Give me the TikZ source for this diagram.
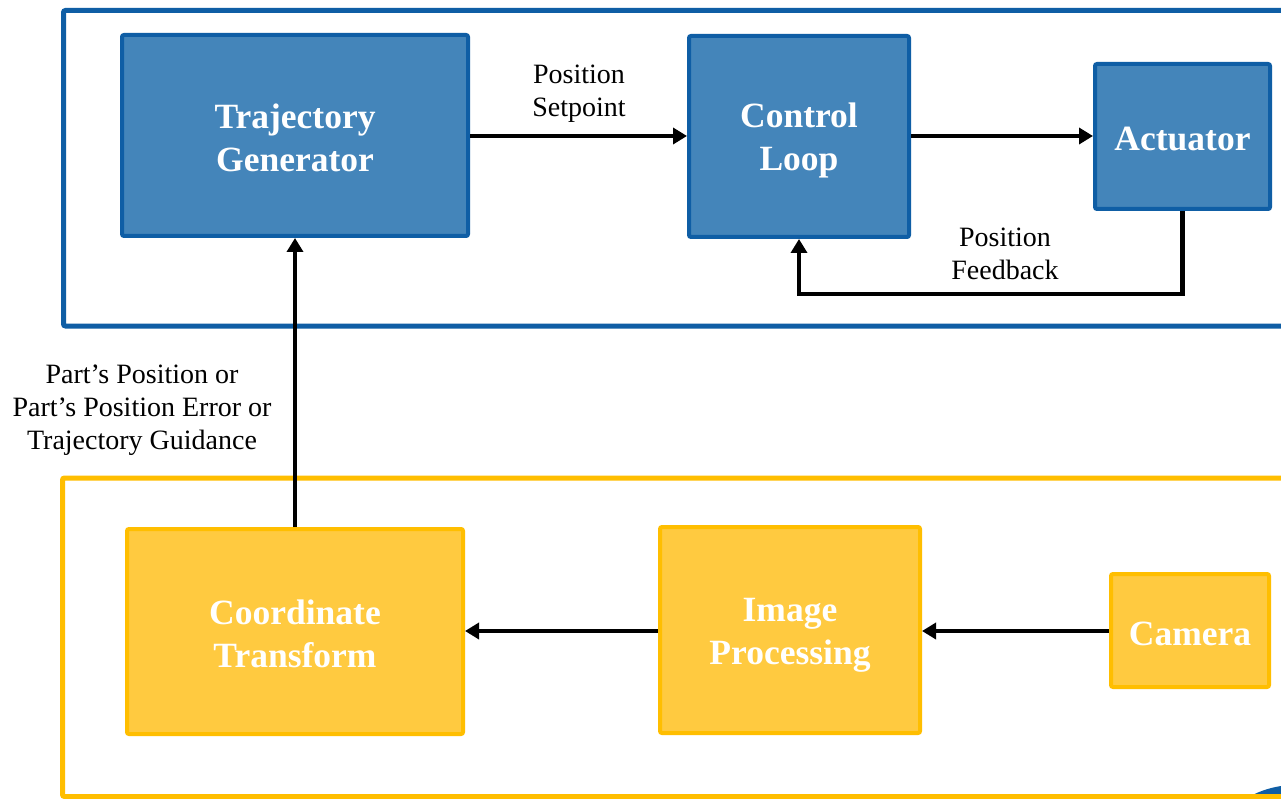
\documentclass[tikz,border=0pt]{standalone}
\usepackage{fontspec}
\setmainfont{Liberation Serif}
\usetikzlibrary{arrows.meta}
\definecolor{bluefill}{RGB}{68,133,186}
\definecolor{blueline}{RGB}{15,94,165}
\definecolor{yelfill}{RGB}{255,202,64}
\definecolor{yelline}{RGB}{255,190,0}
% fixed line box so every block title sits the same way
\newcommand\blkline{\rule[-4.5pt]{0pt}{38pt}}
\tikzset{
  blk/.style={rectangle, rounded corners=2pt, line width=4pt, text=white,
    font=\fontsize{35.5}{43}\selectfont\bfseries, align=center, inner sep=0pt},
  bblk/.style={blk, fill=bluefill, draw=blueline},
  yblk/.style={blk, fill=yelfill, draw=yelline},
  arr/.style={line width=4.5pt, -{Triangle[length=14pt,width=16pt]}},
  lbl/.style={font=\fontsize{28}{33}\selectfont, align=center, inner sep=0pt},
}
\begin{document}
\begin{tikzpicture}[x=1pt,y=-1pt]
\useasboundingbox (0,0) rectangle (1281,799);
\fill[white] (0,0) rectangle (1281,799);
% corner mark
\fill[blueline] (1295,880) circle (95);
% group frames
\draw[blueline, line width=5pt, rounded corners=2pt] (63.5,10.5) rectangle (1300,326);
\draw[yelline, line width=5pt, rounded corners=2pt] (62.5,478) rectangle (1300,796.5);
% motion blocks
\node[bblk, minimum width=346pt, minimum height=201pt] (tg) at (295,135.5) {\blkline Trajectory\\\blkline Generator};
\node[bblk, minimum width=220pt, minimum height=201pt] (cl) at (799,136.5) {\blkline Control\\\blkline Loop};
\node[bblk, minimum width=175pt, minimum height=145pt] (act) at (1182.5,136.5) {\blkline Actuator};
% vision blocks
\node[yblk, minimum width=336pt, minimum height=205pt] (ct) at (295,631.5) {\blkline Coordinate\\\blkline Transform};
\node[yblk, minimum width=260pt, minimum height=206pt] (ip) at (790,630) {\blkline Image\\\blkline Processing};
\node[yblk, minimum width=158pt, minimum height=113pt] (cam) at (1190,630.5) {\blkline Camera};
% connectors
\draw[arr] (tg.east |- 0,136) -- (cl.west |- 0,136);
\draw[arr] (cl.east |- 0,136) -- (act.west |- 0,136);
\coordinate (fb) at (0,294);
\draw[arr] (act.south) -- (act.south |- fb) -| (cl.south);
\draw[arr] (ct.north) -- (tg.south);
\draw[arr] (cam.west |- 0,631) -- (ip.east |- 0,631);
\draw[arr] (ip.west |- 0,631) -- (ct.east |- 0,631);
% labels
\node[lbl] (lsp) at (579,94) {Position\\Setpoint};
\node[lbl] (lfb) at (1005,254) {Position\\Feedback};
\node[lbl] (lpart) at (142,410) {Part’s Position or\\Part’s Position Error or\\Trajectory Guidance};
\end{tikzpicture}
\end{document}
